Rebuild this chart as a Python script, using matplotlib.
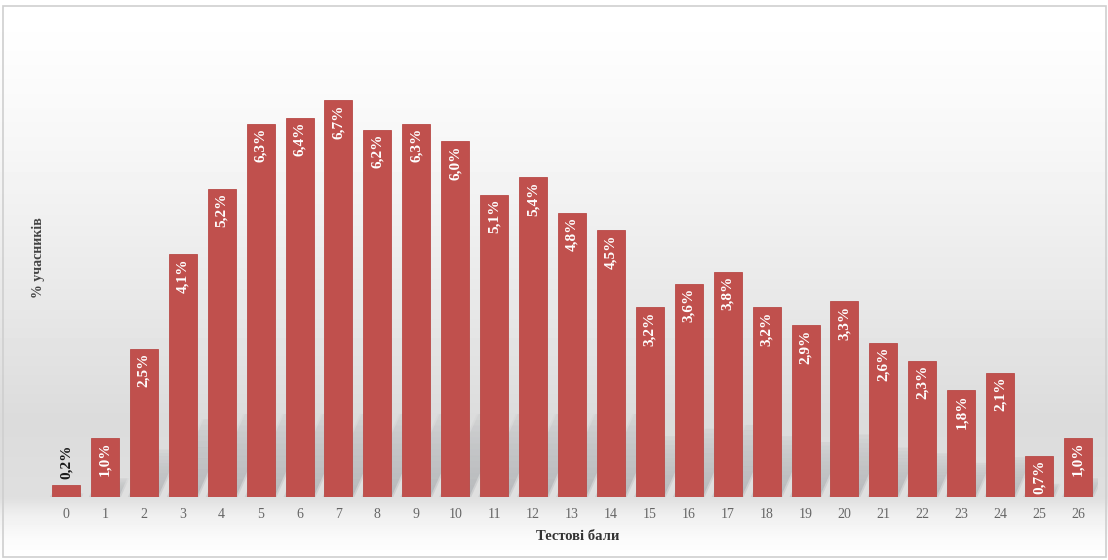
import numpy as np
import matplotlib
matplotlib.use('Agg')
import matplotlib.pyplot as plt
from matplotlib.patches import Polygon, Rectangle

scores = list(range(27))
percents = [0.2, 1.0, 2.5, 4.1, 5.2, 6.3, 6.4, 6.7, 6.2, 6.3, 6.0, 5.1, 5.4, 4.8, 4.5,
            3.2, 3.6, 3.8, 3.2, 2.9, 3.3, 2.6, 2.3, 1.8, 2.1, 0.7, 1.0]
value_labels = ['{:.1f}%'.format(v).replace('.', ',') for v in percents]

plt.rcParams['font.family'] = ['Liberation Serif', 'DejaVu Serif']

W, H = 1108, 560
fig = plt.figure(figsize=(W / 100, H / 100), dpi=100)

# background gradient over the whole figure
bg = fig.add_axes([0, 0, 1, 1], zorder=-10)
bg.set_axis_off()
rows = np.arange(H)
stops_y = [0, 40, 150, 300, 420, 497, 515, 540, 560]
stops_v = [1.0, 0.995, 0.965, 0.91, 0.86, 0.875, 0.94, 0.985, 1.0]
grad = np.interp(rows, stops_y, stops_v)[:, None] * np.ones((1, 4))
bg.imshow(grad, cmap='gray', vmin=0, vmax=1, aspect='auto', extent=[0, W, H, 0])
bg.set_xlim(0, W)
bg.set_ylim(H, 0)
bg.add_patch(Rectangle((3, 6), W - 5, H - 9, fill=False, edgecolor='#cfcfcf', lw=1.2))

# plot area in pixel coords
left, right, bottom, top = 46.5, 1097.5, 497, 47
ax = fig.add_axes([left / W, 1 - bottom / H, (right - left) / W, (bottom - top) / H])
ax.patch.set_alpha(0)
px_per_unit = 59.25
px_per_cat = (right - left) / 27
ymax = (bottom - top) / px_per_unit
ax.set_xlim(-0.5, 26.5)
ax.set_ylim(0, ymax)

bar_w = 0.72
red = '#c0504d'

# soft perspective shadows behind the bars, fading upward
n_slices = 14
for x, v in zip(scores, percents):
    sh = min(v * 0.32, 1.4)
    for k in range(n_slices):
        y0 = sh * k / n_slices
        y1 = sh * (k + 1) / n_slices
        s0 = y0 * px_per_unit * 0.45 / px_per_cat
        s1 = y1 * px_per_unit * 0.45 / px_per_cat
        a = 0.42 * (1 - k / n_slices) ** 0.6
        for grow, f in [(0.05, 0.4), (0.0, 0.6)]:
            poly = Polygon([(x - bar_w / 2 + s0 - grow, y0), (x + bar_w / 2 + s0 + grow, y0),
                            (x + bar_w / 2 + s1 + grow, y1), (x - bar_w / 2 + s1 - grow, y1)],
                           closed=True, facecolor='#7a7f85', edgecolor='none',
                           alpha=a * f, zorder=1)
            ax.add_patch(poly)

ax.bar(scores, percents, width=bar_w, color=red, edgecolor='#b84a47', lw=0.6, zorder=3)

for x, v, lab in zip(scores, percents, value_labels):
    if v < 0.5:
        ax.text(x, v + 0.1, lab, rotation=90, ha='center', va='bottom', fontsize=11,
                fontweight='bold', color='#1a1a1a', zorder=4)
    else:
        ax.text(x, v - 0.07, lab, rotation=90, ha='center', va='top', fontsize=11,
                fontweight='bold', color='white', zorder=4)

ax.set_xticks(scores)
ax.set_xticklabels([str(s) for s in scores], fontsize=10, color='#666666')
ax.tick_params(axis='x', length=0, pad=8)
ax.set_yticks([])
for s in ax.spines.values():
    s.set_visible(False)

fig.text(578 / W, 1 - 537 / H, 'Тестові бали', ha='center', va='center',
         fontsize=10.5, fontweight='bold', color='#333333')
fig.text(38 / W, 1 - 258 / H, '% учасників', ha='center', va='center', rotation=90,
         fontsize=10, fontweight='bold', color='#444444')

fig.savefig('out.png', dpi=100)
